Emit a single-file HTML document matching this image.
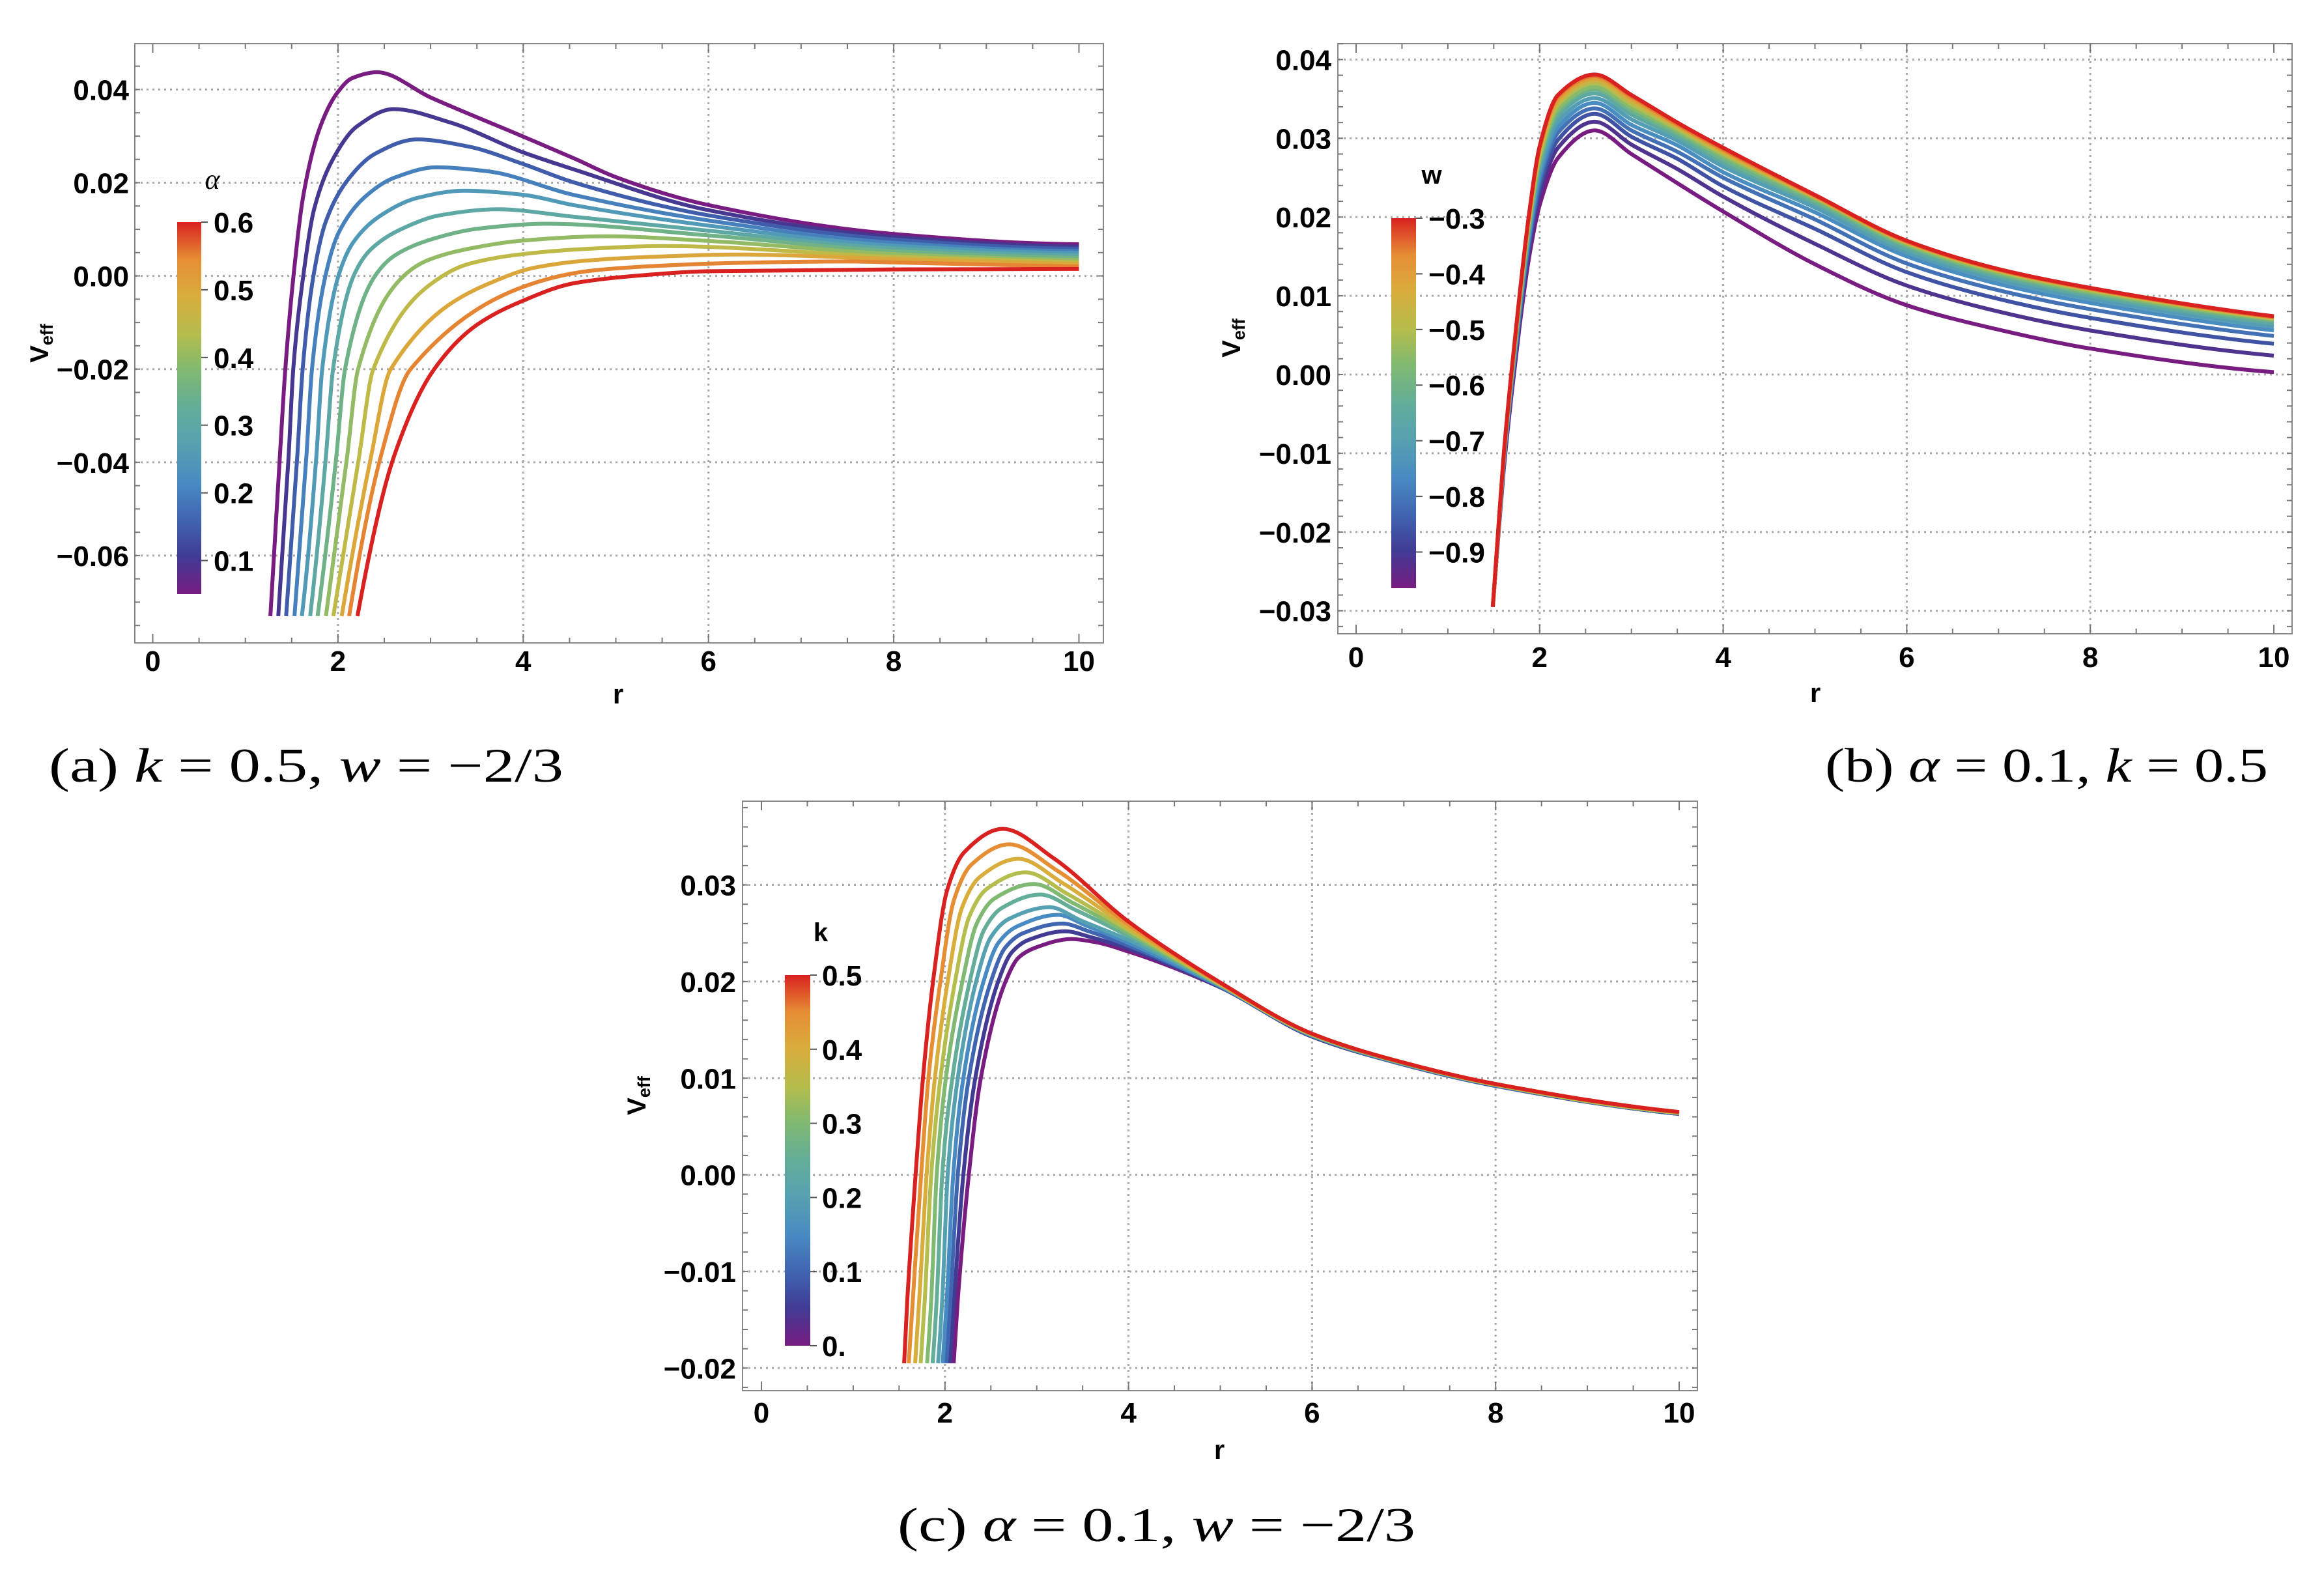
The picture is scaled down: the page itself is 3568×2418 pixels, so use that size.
<!DOCTYPE html>
<html><head><meta charset="utf-8"><title>Veff plots</title>
<style>html,body{margin:0;padding:0;background:#fff;overflow:hidden}svg{display:block}</style></head>
<body>
<svg id="fig" xmlns="http://www.w3.org/2000/svg" width="3568" height="2418" viewBox="0 0 3568 2418">
<rect x="0" y="0" width="3568" height="2418" fill="#fff"/>
</svg>
<script>
// ---------- DATA ----------
// Panel (a): k=0.5, w=-2/3, curves for alpha (purple -> red); [r, Veff] pairs
const aAlphaTicks = ['0.1','0.2','0.3','0.4','0.5','0.6'];
const aAlphaTickVals = [0.1,0.2,0.3,0.4,0.5,0.6];
const aC0  = [[1.27,-.073],[1.372,-.0389],[1.431,-.0201],[1.52,0],[1.628,.0175],[1.81,.0321],[2,.0395],[2.15,.0424],[2.42,.0437],[3,.0383],[4,.0299],[4.54,.0253],[5,.0212],[6,.0152],[8,.0090],[10,.0068]];
const aC1  = [[1.355,-.073],[1.466,-.0389],[1.517,-.0201],[1.625,0],[1.742,.0143],[1.966,.0258],[2.2,.0320],[2.6,.0358],[3.2,.0330],[4,.0265],[4.54,.0229],[6,.0141],[8,.0084],[10,.0063]];
const aC2  = [[1.44,-.073],[1.560,-.0389],[1.618,-.0201],[1.735,0],[1.869,.0117],[2.125,.0211],[2.4,.0262],[2.85,.0293],[3.4,.0278],[4,.0240],[4.54,.0201],[6,.0130],[8,.0078],[10,.0058]];
const aC3  = [[1.53,-.073],[1.658,-.0389],[1.719,-.0201],[1.864,0],[2.008,.0093],[2.283,.0168],[2.6,.0210],[3.06,.0233],[3.6,.0225],[4.54,.0174],[6,.0119],[8,.0071],[10,.0053]];
const aC4  = [[1.61,-.073],[1.766,-.0389],[1.829,-.0201],[2.005,0],[2.168,.0073],[2.479,.0132],[2.85,.0167],[3.36,.0183],[4,.0174],[4.54,.0152],[6,.0108],[8,.0065],[10,.0049]];
const aC5  = [[1.70,-.073],[1.869,-.0389],[1.946,-.0201],[2.169,0],[2.355,.0057],[2.712,.0103],[3.1,.0130],[3.72,.0143],[4.54,.0127],[6,.0097],[8,.0059],[10,.0044]];
const aC6  = [[1.78,-.073],[1.981,-.0389],[2.075,-.0201],[2.40,0],[2.622,.0045],[3.05,.0081],[3.5,.0101],[4.25,.0112],[6,.0087],[8,.0053],[10,.0039]];
const aC7  = [[1.87,-.073],[2.098,-.0389],[2.216,-.0201],[2.71,0],[2.973,.0034],[3.48,.0061],[4.0,.0076],[4.9,.0085],[6,.0075],[8,.0047],[10,.0034]];
const aC8  = [[1.95,-.073],[2.227,-.0389],[2.380,-.0201],[3.13,0],[3.414,.0026],[3.96,.0046],[4.6,.0057],[5.5,.0064],[8,.0041],[10,.0029]];
const aC9  = [[2.04,-.073],[2.356,-.0389],[2.567,-.0201],[3.83,0],[4.13,.0018],[4.69,.0033],[5.4,.0041],[6.3,.0046],[8,.0036],[10,.0025]];
const aC10 = [[2.12,-.073],[2.46,-.0389],[2.78,-.0201],[4.4,0],[4.77,.0012],[5.49,.0022],[6.3,.0028],[7.5,.0031],[8,.0029],[10,.0020]];
const aC11 = [[2.21,-.073],[2.602,-.0389],[3.036,-.0201],[3.5,-.0105],[4,-.0053],[4.54,-.0016],[5.2,0],[6,.0010],[8,.0014],[10,.0015]];
const aCurves = [aC0,aC1,aC2,aC3,aC4,aC5,aC6,aC7,aC8,aC9,aC10,aC11];

// Panel (b): alpha=0.1, k=0.5, curves for w (purple -> red), shared r grid
const bR = [1.49,1.55,1.61,1.69,1.78,1.88,2.0,2.2,2.6,3,3.5,4,5,6,7,8,10];
const bW0  = [-.0295,-.0205,-.0120,-.0030,.0060,.0145,.0215,.0275,.0310,.0280,.0243,.0207,.0140,.0088,.0057,.0033,.0003];
const bW1  = [-.0295,-.0203,-.0117,-.0025,.0066,.0154,.0227,.0288,.0321,.0292,.0261,.0226,.0166,.0113,.0080,.0056,.0024];
const bW2  = [-.0295,-.0202,-.0114,-.0021,.0072,.0161,.0237,.0298,.0331,.0302,.0274,.0239,.0185,.0130,.0096,.0072,.0039];
const bW3  = [-.0295,-.0201,-.0112,-.0018,.0076,.0167,.0245,.0307,.0338,.0310,.0283,.0250,.0197,.0141,.0107,.0083,.0049];
const bW4  = [-.0295,-.0200,-.0110,-.0015,.0080,.0172,.0252,.0314,.0345,.0317,.0291,.0257,.0206,.0150,.0115,.0091,.0056];
const bW5  = [-.0295,-.0199,-.0108,-.0013,.0083,.0177,.0259,.0321,.0351,.0324,.0297,.0264,.0212,.0155,.0120,.0096,.0061];
const bW6  = [-.0295,-.0198,-.0107,-.0010,.0086,.0181,.0265,.0328,.0357,.0330,.0302,.0269,.0217,.0159,.0124,.0100,.0065];
const bW7  = [-.0295,-.0198,-.0105,-.0008,.0089,.0185,.0270,.0333,.0362,.0335,.0306,.0273,.0220,.0163,.0127,.0103,.0068];
const bW8  = [-.0295,-.0197,-.0104,-.0007,.0091,.0188,.0274,.0337,.0365,.0339,.0309,.0277,.0223,.0165,.0129,.0105,.0070];
const bW9  = [-.0295,-.0197,-.0103,-.0005,.0094,.0191,.0278,.0342,.0370,.0343,.0312,.0280,.0225,.0167,.0131,.0107,.0071];
const bW10 = [-.0295,-.0196,-.0102,-.0003,.0096,.0194,.0282,.0346,.0373,.0347,.0315,.0282,.0225,.0168,.0132,.0108,.0072];
const bW11 = [-.0295,-.0196,-.0101,-.0002,.0097,.0196,.0285,.0349,.0376,.0350,.0316,.0284,.0226,.0168,.0133,.0109,.0073];
const bW12 = [-.0295,-.0195,-.0101,-.0001,.0099,.0198,.0288,.0353,.0379,.0353,.0318,.0286,.0227,.0169,.0133,.0109,.0073];
const bW13 = [-.0295,-.0195,-.0100,0,.0100,.0200,.0290,.0355,.0381,.0355,.0320,.0288,.0228,.0170,.0134,.0110,.0074];
const bSeries = [bW0,bW1,bW2,bW3,bW4,bW5,bW6,bW7,bW8,bW9,bW10,bW11,bW12,bW13];
const bWTicks = ['\u22120.3','\u22120.4','\u22120.5','\u22120.6','\u22120.7','\u22120.8','\u22120.9'];
const bWTickVals = [-0.3,-0.4,-0.5,-0.6,-0.7,-0.8,-0.9];

// Panel (c): alpha=0.1, w=-2/3, curves for k (purple k=0 -> red k=0.5)
const cK0  = [[2.095,-.0195],[2.14,-.0129],[2.26,0],[2.39,.01],[2.66,.02],[2.804,.0225],[2.984,.0235],[3.38,.0244],[3.628,.0241],[4,.0231],[5,.0194],[6,.0143],[7,.0114],[8,.0092],[10,.0063]];
const cK1  = [[2.055,-.0195],[2.10,-.0129],[2.20,0],[2.33,.01],[2.58,.02],[2.726,.0230],[2.909,.0243],[3.31,.0252],[3.586,.0246],[4,.0234],[5,.0194],[6,.0143],[7,.0114],[8,.0092],[10,.0063]];
const cK2  = [[2.015,-.0195],[2.06,-.0129],[2.14,0],[2.26,.01],[2.50,.02],[2.656,.0235],[2.851,.0250],[3.28,.0260],[3.568,.0252],[4,.0237],[5,.0195],[6,.0144],[7,.0114],[8,.0092],[10,.0063]];
const cK3  = [[1.975,-.0195],[2.02,-.0129],[2.09,0],[2.20,.01],[2.42,.02],[2.582,.0240],[2.785,.0257],[3.23,.0269],[3.538,.0258],[4,.0240],[5,.0195],[6,.0144],[7,.0115],[8,.0093],[10,.0064]];
const cK4  = [[1.925,-.0195],[1.97,-.0129],[2.03,0],[2.14,.01],[2.34,.02],[2.50,.0246],[2.70,.0265],[3.14,.0277],[3.484,.0263],[4,.0243],[5,.0196],[6,.0144],[7,.0115],[8,.0093],[10,.0064]];
const cK5  = [[1.865,-.0195],[1.91,-.0129],[1.97,0],[2.08,.01],[2.27,.02],[2.424,.0253],[2.617,.0276],[3.04,.0290],[3.424,.0274],[4,.0247],[5,.0196],[6,.0145],[7,.0115],[8,.0093],[10,.0064]];
const cK6  = [[1.805,-.0195],[1.85,-.0129],[1.91,0],[2.01,.01],[2.19,.02],[2.346,.0260],[2.541,.0286],[2.97,.0301],[3.382,.0282],[4,.0250],[5,.0197],[6,.0145],[7,.0115],[8,.0093],[10,.0064]];
const cK7  = [[1.735,-.0195],[1.78,-.0129],[1.85,0],[1.95,.01],[2.11,.02],[2.264,.0267],[2.457,.0296],[2.88,.0313],[3.328,.0291],[4,.0253],[5,.0197],[6,.0145],[7,.0116],[8,.0093],[10,.0064]];
const cK8  = [[1.675,-.0195],[1.72,-.0129],[1.80,0],[1.89,.01],[2.03,.02],[2.184,.0276],[2.377,.0308],[2.80,.0327],[3.28,.0302],[4,.0256],[5,.0198],[6,.0146],[7,.0116],[8,.0094],[10,.0065]];
const cK9  = [[1.605,-.0195],[1.65,-.0129],[1.74,0],[1.82,.01],[1.95,.02],[2.10,.0285],[2.288,.0321],[2.70,.0342],[3.22,.0315],[4,.0259],[5,.0198],[6,.0146],[7,.0116],[8,.0094],[10,.0065]];
const cK10 = [[1.555,-.0195],[1.59,-.0129],[1.68,0],[1.76,.01],[1.87,.02],[2.022,.0294],[2.212,.0334],[2.63,.0358],[3.178,.0328],[4,.0262],[5,.0199],[6,.0146],[7,.0116],[8,.0094],[10,.0065]];
const cCurves = [cK0,cK1,cK2,cK3,cK4,cK5,cK6,cK7,cK8,cK9,cK10];
const cKTicks = ['0.','0.1','0.2','0.3','0.4','0.5'];
const cKTickVals = [0,0.1,0.2,0.3,0.4,0.5];

const xTickVals = [0,2,4,6,8,10];
const aYTickVals = [0.04,0.02,0.00,-0.02,-0.04,-0.06];
const aYTicks = ['0.04','0.02','0.00','\u22120.02','\u22120.04','\u22120.06'];
const bYTickVals = [0.04,0.03,0.02,0.01,0.00,-0.01,-0.02,-0.03];
const bYTicks = ['0.04','0.03','0.02','0.01','0.00','\u22120.01','\u22120.02','\u22120.03'];
const cYTickVals = [0.03,0.02,0.01,0.00,-0.01,-0.02];
const cYTicks = ['0.03','0.02','0.01','0.00','\u22120.01','\u22120.02'];

// ---------- RENDER ----------
const NS = 'http://www.w3.org/2000/svg';
const svg = document.getElementById('fig');
function mk(tag, attrs, parent){const e=document.createElementNS(NS,tag);for(const k in attrs)e.setAttribute(k,attrs[k]);(parent||svg).appendChild(e);return e;}
const PAL=['#781C81','#413B93','#4065B1','#488BC2','#55A1B1','#63AD99','#7FB972','#B5BD4C','#D9AD3C','#E68E34','#D92120'];
function hex(h){return [1,3,5].map(i=>parseInt(h.substr(i,2),16));}
function color(t){t=Math.max(0,Math.min(1,t));const s=t*(PAL.length-1);const i=Math.min(PAL.length-2,Math.floor(s));const f=s-i;const a=hex(PAL[i]),b=hex(PAL[i+1]);return 'rgb('+a.map((v,j)=>Math.round(v+(b[j]-v)*f)).join(',')+')';}

function monoPath(pts, X, Y){
  const n=pts.length, xs=pts.map(p=>p[0]), ys=pts.map(p=>p[1]);
  const h=[],d=[],m=new Array(n);
  for(let i=0;i<n-1;i++){h.push(xs[i+1]-xs[i]);d.push((ys[i+1]-ys[i])/h[i]);}
  m[0]=d[0];m[n-1]=d[n-2];
  for(let i=1;i<n-1;i++){
    if(d[i-1]*d[i]<=0){m[i]=0;continue;}
    const w1=2*h[i]+h[i-1], w2=h[i]+2*h[i-1];
    m[i]=(w1+w2)/(w1/d[i-1]+w2/d[i]);
  }
  if(n>2){m[0]=((2*h[0]+h[1])*d[0]-h[0]*d[1])/(h[0]+h[1]); if(m[0]*d[0]<=0)m[0]=0; else if(d[0]*d[1]<0&&Math.abs(m[0])>3*Math.abs(d[0]))m[0]=3*d[0];
    const k=n-2; m[n-1]=((2*h[k]+h[k-1])*d[k]-h[k]*d[k-1])/(h[k]+h[k-1]); if(m[n-1]*d[k]<=0)m[n-1]=0;}
  let p='M'+X(xs[0]).toFixed(1)+','+Y(ys[0]).toFixed(1);
  for(let i=0;i<n-1;i++){const hh=h[i];
    p+=' C'+X(xs[i]+hh/3).toFixed(1)+','+Y(ys[i]+m[i]*hh/3).toFixed(1)+' '+X(xs[i+1]-hh/3).toFixed(1)+','+Y(ys[i+1]-m[i+1]*hh/3).toFixed(1)+' '+X(xs[i+1]).toFixed(1)+','+Y(ys[i+1]).toFixed(1);}
  return p;
}
function lbl(x,y,str,anchor,size,parent){
  const t=mk('text',{x:x,y:y,'text-anchor':anchor,'font-family':'Liberation Sans, sans-serif','font-weight':'bold','font-size':size,fill:'#000'},parent);
  t.textContent=str;return t;
}

const panels=[
 {id:'a',L:207,T:67,R:1694,B:987,x0:234.5,xs:142.2,y0:423.6,ys:7155,yMinorStep:0.005,
  yv:aYTickVals,yl:aYTicks,labR:198,xlabY:1030,rX:949,rY:1080,vX:60,vY:527,
  cb:{x:272,w:37,top:341,bot:912,vTop:0.6,vBot:0.0505,vals:aAlphaTickVals,labs:aAlphaTicks,lx:328,title:'\u03b1',tx:326,ty:290,italic:true}},
 {id:'b',L:2054,T:67,R:3519,B:973,x0:2082,xs:140.9,y0:575,ys:12090,yMinorStep:0.002,
  yv:bYTickVals,yl:bYTicks,labR:2044,xlabY:1024,rX:2787,rY:1078,vX:1890,vY:519,
  cb:{x:2136,w:38,top:335,bot:903,vTop:-0.3,vBot:-0.965,vals:bWTickVals,labs:bWTicks,lx:2193,title:'w',tx:2198,ty:282,italic:false}},
 {id:'c',L:1140,T:1230,R:2606,B:2135,x0:1169,xs:140.9,y0:1803.6,ys:14835,yMinorStep:0.002,
  yv:cYTickVals,yl:cYTicks,labR:1130,xlabY:2184,rX:1872,rY:2240,vX:977,vY:1682,
  cb:{x:1205,w:39,top:1497,bot:2066,vTop:0.5,vBot:0,vals:cKTickVals,labs:cKTicks,lx:1262,title:'k',tx:1260,ty:1445,italic:false}}
];

panels.forEach(P=>{
  const g=mk('g',{});
  
  
  const X=r=>P.x0+r*P.xs, Y=v=>P.y0-v*P.ys;
  const yMax=(P.y0-P.T)/P.ys, yMin=(P.y0-P.B)/P.ys;
  // grid
  const grid=mk('g',{stroke:'#a8a8a8','stroke-width':3,'stroke-dasharray':'3 6',fill:'none'},g);
  
  
  [2,4,6,8].forEach(r=>{const l=mk('line',{x1:X(r),x2:X(r),y1:P.T,y2:P.B},grid);
    
    });
  P.yv.forEach(v=>{const l=mk('line',{x1:P.L,x2:P.R,y1:Y(v),y2:Y(v)},grid);
    
    });
  // frame
  const fr=mk('rect',{x:P.L,y:P.T,width:P.R-P.L,height:P.B-P.T,fill:'none',stroke:'#888','stroke-width':2},g);
  
  
  // ticks
  const tk=mk('g',{stroke:'#777','stroke-width':2},g);
  
  
  for(let r=0;r<=10.001;r+=0.5){const x=X(r),len=(Math.abs(r-Math.round(r/2)*2)<1e-6)?14:8;
    mk('line',{x1:x,x2:x,y1:P.B,y2:P.B-len},tk);mk('line',{x1:x,x2:x,y1:P.T,y2:P.T+len},tk);}
  const st=P.yMinorStep;
  for(let k=Math.ceil(yMin/st);k*st<=yMax;k++){const v=k*st,y=Y(v);if(y<P.T||y>P.B)continue;
    mk('line',{x1:P.L,x2:P.L+8,y1:y,y2:y},tk);mk('line',{x1:P.R,x2:P.R-8,y1:y,y2:y},tk);}
  // tick labels
  xTickVals.forEach(r=>{const t=lbl(X(r),P.xlabY,String(r),'middle',44,g);
    
    });
  P.yv.forEach((v,i)=>{const t=lbl(P.labR,Y(v)+16,P.yl[i],'end',44,g);
    
    });
  // axis titles
  const rt=lbl(P.rX,P.rY,'r','middle',42,g);
  
  
  const vt=mk('text',{transform:'translate('+(P.vX+14)+','+P.vY+') rotate(-90)','text-anchor':'middle','font-family':'Liberation Sans, sans-serif','font-weight':'bold','font-size':40},g);
  
  
  const t1=mk('tspan',{},vt);t1.textContent='V';
  const t2=mk('tspan',{'font-size':27,dy:7},vt);t2.textContent='eff';
  // curves
  const clipId='clip'+P.id;
  const cp=mk('clipPath',{id:clipId},g);mk('rect',{x:P.L,y:P.T,width:P.R-P.L,height:P.B-P.T},cp);
  const cg=mk('g',{'clip-path':'url(#'+clipId+')',fill:'none','stroke-width':6,'stroke-linecap':'butt','stroke-linejoin':'round'},g);
  
  
  let list;
  if(P.id==='a')list=aCurves;
  else if(P.id==='c')list=cCurves;
  else list=bSeries.map(s=>s.map((v,i)=>[bR[i],v]));
  list.forEach((pts,i)=>{
    const p=mk('path',{d:monoPath(pts,X,Y),stroke:color(i/(list.length-1))},cg);
    
    
  });
  // colorbar
  const C=P.cb;
  const gid='grad'+P.id;
  const lg=mk('linearGradient',{id:gid,x1:0,y1:1,x2:0,y2:0},g);
  PAL.forEach((c,i)=>mk('stop',{offset:(i/(PAL.length-1)),'stop-color':c},lg));
  const cb=mk('rect',{x:C.x,y:C.top,width:C.w,height:C.bot-C.top,fill:'url(#'+gid+')'},g);
  
  
  const CY=v=>C.top+(C.vTop-v)/(C.vTop-C.vBot)*(C.bot-C.top);
  C.vals.forEach((v,i)=>{const y=CY(v);
    mk('line',{x1:C.x+C.w,x2:C.x+C.w+10,y1:y,y2:y,stroke:'#555','stroke-width':2},g);
    const t=lbl(C.lx,y+16,C.labs[i],'start',44,g);
    
    });
  const ct=C.italic?mk('text',{x:C.tx,y:C.ty,'text-anchor':'middle','font-family':'Liberation Serif, serif','font-style':'italic','font-size':44},g)
                  :lbl(C.tx,C.ty,C.title,'middle',40,g);
  ct.textContent=C.title;
  
  
});

// captions
function caption(x,y,len,parts,name){
  const t=mk('text',{x:x,y:y,'font-family':'Liberation Serif, serif','font-size':74,textLength:len,lengthAdjust:'spacingAndGlyphs',fill:'#000'});
  parts.forEach(p=>{const s=mk('tspan',p[1]?{'font-style':'italic'}:{},t);s.textContent=p[0];});
  
  
}
caption(75,1200,790,[['(a) '],['k',1],[' = 0.5, '],['w',1],[' = \u22122/3']],'caption-a');
caption(2802,1200,680,[['(b) '],['\u03b1',1],[' = 0.1, '],['k',1],[' = 0.5']],'caption-b');
caption(1378,2366,795,[['(c) '],['\u03b1',1],[' = 0.1, '],['w',1],[' = \u22122/3']],'caption-c');
</script>
</body></html>
